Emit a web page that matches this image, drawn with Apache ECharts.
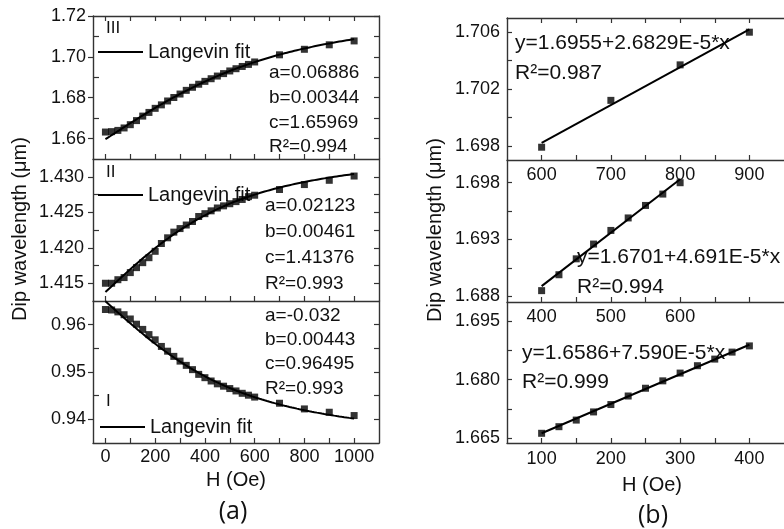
<!DOCTYPE html>
<html>
<head>
<meta charset="utf-8">
<script src="https://cdn.jsdelivr.net/npm/echarts@6/dist/echarts.min.js"></script>
<style>
  html, body { margin: 0; padding: 0; background: #fff; }
  #chart { width: 784px; height: 529px; }
</style>
</head>
<body>
<div id="chart"></div>
<script>
// ---- (a) dip wavelength vs field, three dips with Langevin fits ----
const fieldA = [0, 25, 50, 75, 100, 125, 150, 175, 200, 225, 250, 275, 300, 325, 350,
  375, 400, 425, 450, 475, 500, 525, 550, 575, 600, 700, 800, 900, 1000];
const dipIII = [1.6632, 1.6634, 1.6640, 1.6652, 1.6668, 1.6688, 1.6710, 1.6728, 1.6748, 1.6765,
  1.6784, 1.6801, 1.6818, 1.6836, 1.6851, 1.6866, 1.6880, 1.6893, 1.6906, 1.6918, 1.6931,
  1.6942, 1.6953, 1.6963, 1.6975, 1.7010, 1.7037, 1.7059, 1.7078];
const dipII = [1.4150, 1.4150, 1.4155, 1.4158, 1.4165, 1.4172, 1.4179, 1.4186, 1.4195, 1.4206,
  1.4214, 1.4222, 1.4227, 1.4232, 1.4237, 1.4244, 1.4248, 1.4252, 1.4256, 1.4259, 1.4262,
  1.4265, 1.4268, 1.4272, 1.4274, 1.4282, 1.4289, 1.4295, 1.4301];
const dipI = [0.9632, 0.9631, 0.9627, 0.9621, 0.9612, 0.9601, 0.9590, 0.9579, 0.9568, 0.9554,
  0.9544, 0.9533, 0.9523, 0.9514, 0.9505, 0.9495, 0.9488, 0.9481, 0.9475, 0.9470, 0.9465,
  0.9460, 0.9455, 0.9451, 0.9447, 0.9434, 0.9422, 0.9415, 0.9408];

// Langevin fit parameters, order: III, II, I   (y = c + a * L(b * H))
const langevinA = [0.06886, 0.02123, -0.032];
const langevinB = [0.00344, 0.00461, 0.00443];
const langevinC = [1.65969, 1.41376, 0.96495];
const langevinR2 = ['0.994', '0.993', '0.993'];

// ---- (b) linear regions of dip III ----
const fieldHigh = [600, 700, 800, 900];
const dipHigh = [1.6979, 1.7012, 1.7037, 1.7060];
const fitHigh = [1.6982, 1.7062];

const fieldMid = [400, 425, 450, 475, 500, 525, 550, 575, 600];
const dipMid = [1.6885, 1.6899, 1.6913, 1.6926, 1.6938, 1.6949, 1.6960, 1.6970, 1.6980];
const fitMid = [1.6889, 1.6983];

const fieldLow = [100, 125, 150, 175, 200, 225, 250, 275, 300, 325, 350, 375, 400];
const dipLow = [1.6662, 1.6679, 1.6696, 1.6717, 1.6736, 1.6758, 1.6778, 1.6797, 1.6817,
  1.6836, 1.6853, 1.6871, 1.6887];
const fitLow = [1.6662, 1.6890];

const linearEq = ['y=1.6955+2.6829E-5*x', 'y=1.6701+4.691E-5*x', 'y=1.6586+7.590E-5*x'];
const linearR2 = ['0.987', '0.994', '0.999'];

// ---- tick values ----
const ticksAxMajor = [0, 200, 400, 600, 800, 1000];
const ticksAxAll = [0, 100, 200, 300, 400, 500, 600, 700, 800, 900, 1000];
const ticksIIIy = [1.66, 1.68, 1.70, 1.72];
const ticksIIIyMinor = [1.67, 1.69, 1.71];
const ticksIIy = [1.415, 1.420, 1.425, 1.430];
const ticksIIyMinor = [1.4175, 1.4225, 1.4275];
const ticksIy = [0.94, 0.95, 0.96];
const ticksIyMinor = [0.945, 0.955];

const ticksHighX = [600, 700, 800, 900];
const ticksHighXAll = [600, 650, 700, 750, 800, 850, 900];
const ticksHighY = [1.698, 1.702, 1.706];
const ticksHighYMinor = [1.700, 1.704];
const ticksMidX = [400, 500, 600];
const ticksMidXAll = [400, 450, 500, 550, 600, 650, 700];
const ticksMidY = [1.688, 1.693, 1.698];
const ticksMidYMinor = [1.6905, 1.6955];
const ticksLowX = [100, 200, 300, 400];
const ticksLowXAll = [100, 150, 200, 250, 300, 350, 400];
const ticksLowY = [1.665, 1.680, 1.695];
const ticksLowYMinor = [1.6725, 1.6875];

const FONT = "'Liberation Sans', Arial, Helvetica, sans-serif";
const AXC = '#333';
const TXT = '#111';

const grids = [], xAxes = [], yAxes = [], series = [];

function addPanel(p) {
  const g = grids.length;
  grids.push({ left: p.left, top: p.top, width: p.width, height: p.height });
  const line = { show: true, onZero: false, lineStyle: { color: AXC, width: 1.4 } };
  const noLine = { show: false, onZero: false };
  const tickStyle = { color: AXC, width: 1.2 };
  const xi = xAxes.length;
  xAxes.push({
    type: 'value', gridIndex: g, min: p.xMin, max: p.xMax, position: 'bottom',
    axisLine: line,
    axisTick: { show: true, inside: true, length: 5, customValues: p.xTicks, lineStyle: tickStyle },
    axisLabel: p.xLabels
      ? { show: true, customValues: p.xLabels, margin: p.xMargin, fontSize: 18, color: TXT, fontFamily: FONT,
          formatter: v => String(v) }
      : { show: false },
    splitLine: { show: false }
  });
  if (p.topFrame) {
    xAxes.push({
      type: 'value', gridIndex: g, min: p.xMin, max: p.xMax, position: 'top',
      axisLine: line,
      axisTick: { show: true, inside: true, length: 5, customValues: p.xTicks, lineStyle: tickStyle },
      axisLabel: { show: false }, splitLine: { show: false }
    });
  }
  const yi = yAxes.length;
  yAxes.push({
    type: 'value', gridIndex: g, min: p.yMin, max: p.yMax, position: 'left',
    axisLine: line,
    axisTick: {
      show: true, inside: p.majorInside, length: 5, lineStyle: tickStyle,
      customValues: p.majorInside ? p.yMajor.concat(p.yMinor) : p.yMajor
    },
    axisLabel: {
      show: true, customValues: p.yMajor, margin: p.yMargin, fontSize: 18, color: TXT, fontFamily: FONT,
      formatter: v => Number(v).toFixed(p.dec)
    },
    splitLine: { show: false }
  });
  if (!p.majorInside) {
    yAxes.push({
      type: 'value', gridIndex: g, min: p.yMin, max: p.yMax, position: 'left',
      axisLine: noLine,
      axisTick: { show: true, inside: true, length: 6, customValues: p.yMinor, lineStyle: tickStyle },
      axisLabel: { show: false }, splitLine: { show: false }
    });
  }
  if (p.rightFrame) {
    yAxes.push({
      type: 'value', gridIndex: g, min: p.yMin, max: p.yMax, position: 'right',
      axisLine: line,
      axisTick: { show: true, inside: true, length: 5, customValues: p.yMajor.concat(p.yMinor), lineStyle: tickStyle },
      axisLabel: { show: false }, splitLine: { show: false }
    });
  }
  return { xi, yi };
}

function scatter(ax, xs, ys) {
  series.push({
    type: 'scatter', xAxisIndex: ax.xi, yAxisIndex: ax.yi,
    data: xs.map((x, i) => [x, ys[i]]),
    symbol: 'rect', symbolSize: 7, itemStyle: { color: '#000' }, z: 3
  });
}
function fitLine(ax, pts) {
  series.push({
    type: 'line', xAxisIndex: ax.xi, yAxisIndex: ax.yi, data: pts,
    showSymbol: false, symbol: 'none', lineStyle: { color: '#000', width: 2 }, z: 4
  });
}

// Langevin function L(z) = coth(z) - 1/z, evaluated with the printed fit parameters
function langevin(z) { return Math.abs(z) < 1e-4 ? z / 3 : 1 / Math.tanh(z) - 1 / z; }
function langevinCurve(k) {
  const pts = [];
  for (let h = 0; h <= 1000; h += 5) {
    pts.push([h, langevinC[k] + langevinA[k] * langevin(langevinB[k] * h)]);
  }
  return pts;
}

// Left column
const L = { left: 93, width: 286, xMin: -50, xMax: 1100, xTicks: ticksAxAll, rightFrame: true, majorInside: false };
const pIII = addPanel(Object.assign({}, L, { top: 16, height: 143, yMin: 1.65, yMax: 1.72,
  yMajor: ticksIIIy, yMinor: ticksIIIyMinor, dec: 2, yMargin: 7, topFrame: true }));
const pII = addPanel(Object.assign({}, L, { top: 159, height: 142, yMin: 1.4125, yMax: 1.4325,
  yMajor: ticksIIy, yMinor: ticksIIyMinor, dec: 3, yMargin: 9 }));
const pI = addPanel(Object.assign({}, L, { top: 301, height: 142, yMin: 0.935, yMax: 0.965,
  yMajor: ticksIy, yMinor: ticksIyMinor, dec: 2, yMargin: 7, xLabels: ticksAxMajor, xMargin: 5 }));

// Right column
const R = { left: 507, width: 285, majorInside: true, rightFrame: false, dec: 3, yMargin: 7, xMargin: 6 };
const pHigh = addPanel(Object.assign({}, R, { top: 18, height: 142, xMin: 550, xMax: 950,
  xTicks: ticksHighXAll, xLabels: ticksHighX, yMin: 1.697, yMax: 1.707,
  yMajor: ticksHighY, yMinor: ticksHighYMinor, topFrame: true }));
const pMid = addPanel(Object.assign({}, R, { top: 160, height: 142, xMin: 350, xMax: 750,
  xTicks: ticksMidXAll, xLabels: ticksMidX, yMin: 1.6875, yMax: 1.700,
  yMajor: ticksMidY, yMinor: ticksMidYMinor }));
const pLow = addPanel(Object.assign({}, R, { top: 302, height: 141, xMin: 50, xMax: 450,
  xTicks: ticksLowXAll, xLabels: ticksLowX, yMin: 1.6637, yMax: 1.700,
  yMajor: ticksLowY, yMinor: ticksLowYMinor, xMargin: 7 }));

scatter(pIII, fieldA, dipIII); fitLine(pIII, langevinCurve(0));
scatter(pII, fieldA, dipII);   fitLine(pII, langevinCurve(1));
scatter(pI, fieldA, dipI);     fitLine(pI, langevinCurve(2));

scatter(pHigh, fieldHigh, dipHigh);
fitLine(pHigh, [[fieldHigh[0], fitHigh[0]], [fieldHigh[fieldHigh.length - 1], fitHigh[1]]]);
scatter(pMid, fieldMid, dipMid);
fitLine(pMid, [[fieldMid[0], fitMid[0]], [fieldMid[fieldMid.length - 1], fitMid[1]]]);
scatter(pLow, fieldLow, dipLow);
fitLine(pLow, [[fieldLow[0], fitLow[0]], [fieldLow[fieldLow.length - 1], fitLow[1]]]);

// Text annotations
function txt(x, y, s, size, align, z) {
  return {
    type: 'text', x: x, y: y, z: z === undefined ? 10 : z,
    style: { text: s, font: size + 'px ' + FONT, fill: TXT, verticalAlign: 'middle', align: align || 'left' }
  };
}
function seg(x1, x2, y) {
  return { type: 'line', z: 1, shape: { x1: x1, y1: y, x2: x2, y2: y }, style: { stroke: '#000', lineWidth: 2 } };
}
const names = ['III', 'II', 'I'];
const paramRows = [
  { x: 269, ys: [73, 98, 123, 147] },
  { x: 265, ys: [206, 232, 258, 284] },
  { x: 265, ys: [316, 340, 364, 389] }
];
const graphics = [];
paramRows.forEach((r, k) => {
  graphics.push(txt(r.x, r.ys[0], 'a=' + langevinA[k], 19));
  graphics.push(txt(r.x, r.ys[1], 'b=' + langevinB[k].toFixed(5), 19));
  graphics.push(txt(r.x, r.ys[2], 'c=' + langevinC[k], 19));
  graphics.push(txt(r.x, r.ys[3], 'R\u00B2=' + langevinR2[k], 19));
});
// panel numerals and legend entries (kept beneath the data marks)
graphics.push(txt(106, 28, names[0], 17));
graphics.push(txt(106, 172, names[1], 17));
graphics.push(txt(106, 401, names[2], 17));
[[52, 98, 148], [195, 98, 148], [427, 100, 150]].forEach(([y, x1, tx]) => {
  graphics.push(seg(x1, x1 + 45, y));
  graphics.push(txt(tx, y, 'Langevin fit', 20, 'left', 1));
});
// linear fit equations
[[515, 43, 73], [577, 257, 287], [522, 353, 382]].forEach(([x, y1, y2], k) => {
  graphics.push(txt(x, y1, linearEq[k], 21, 'left', 1));
  graphics.push(txt(x, y2, 'R\u00B2=' + linearR2[k], 21));
});
// axis titles and panel letters
graphics.push(txt(236, 480, 'H (Oe)', 20, 'center'));
graphics.push(txt(652, 485, 'H (Oe)', 20, 'center'));
graphics.push({ type: 'text', x: 233, y: 512, z: 10,
  style: { text: '(a)', font: "25px 'Open Sans', sans-serif", fill: TXT, align: 'center', verticalAlign: 'middle' } });
graphics.push({ type: 'text', x: 653, y: 516, z: 10,
  style: { text: '(b)', font: "25px 'Open Sans', sans-serif", fill: TXT, align: 'center', verticalAlign: 'middle' } });
graphics.push({ type: 'text', x: 20, y: 229, rotation: Math.PI / 2, z: 10,
  style: { text: 'Dip wavelength (\u03BCm)', font: '20px ' + FONT, fill: TXT, align: 'center', verticalAlign: 'middle' } });
graphics.push({ type: 'text', x: 435, y: 230, rotation: Math.PI / 2, z: 10,
  style: { text: 'Dip wavelength (\u03BCm)', font: '20px ' + FONT, fill: TXT, align: 'center', verticalAlign: 'middle' } });

const chart = echarts.init(document.getElementById('chart'), null, { renderer: 'canvas' });
chart.setOption({
  backgroundColor: '#fff',
  animation: false,
  grid: grids,
  xAxis: xAxes,
  yAxis: yAxes,
  series: series,
  graphic: graphics
});
</script>
</body>
</html>
